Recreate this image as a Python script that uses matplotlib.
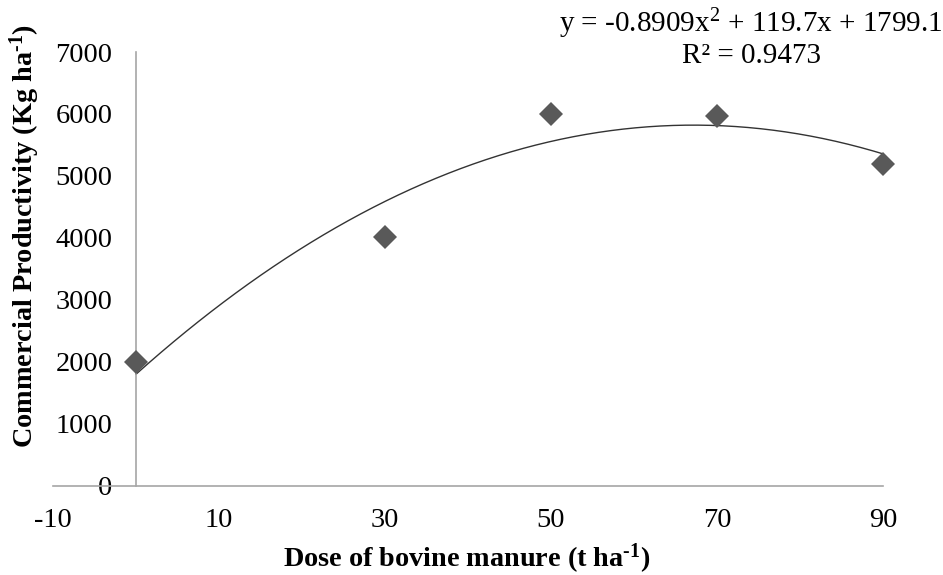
import numpy as np
import matplotlib
matplotlib.use("Agg")
import matplotlib.pyplot as plt

plt.rcParams['font.family'] = ['Liberation Serif', 'DejaVu Serif']
plt.rcParams['mathtext.fontset'] = 'custom'
plt.rcParams['mathtext.rm'] = 'Liberation Serif'
plt.rcParams['mathtext.bf'] = 'Liberation Serif:bold'
plt.rcParams['mathtext.it'] = 'Liberation Serif:italic'
plt.rcParams['axes.unicode_minus'] = False

# data
doses = [0, 30, 50, 70, 90]
productivity = [2000, 4010, 6000, 5975, 5200]
# trendline coefficients (as shown in the chart equation): a*x^2 + b*x + c
trend_coefs = [-0.8909, 119.7, 1799.1]
r_squared = 0.9473
x_ticks = [-10, 10, 30, 50, 70, 90]
y_ticks = [0, 1000, 2000, 3000, 4000, 5000, 6000, 7000]

W, H = 943, 575
fig = plt.figure(figsize=(W / 100, H / 100), dpi=100)
ax = fig.add_axes([53 / W, 1 - 485.7 / H, 830 / W, 433.7 / H])

ax.set_xlim(-10, 90)
ax.set_ylim(0, 7000)

xs = np.linspace(min(doses), max(doses), 300)
ys = np.polyval(trend_coefs, xs)
ax.plot(xs, ys, color='#333333', lw=1.0, zorder=2)
ax.plot(doses, productivity, linestyle='none', marker='D', markersize=12,
        color='#595959', markeredgewidth=0, zorder=3, clip_on=False)

for s in ['top', 'right']:
    ax.spines[s].set_visible(False)
ax.spines['left'].set_position(('data', 0))
for s in ['left', 'bottom']:
    ax.spines[s].set_color('#A6A6A6')
    ax.spines[s].set_linewidth(1.2)

ax.set_xticks(x_ticks)
ax.set_yticks(y_ticks)
ax.tick_params(axis='both', length=0, labelsize=20.5, colors='#000000')
ax.tick_params(axis='y', pad=17)
ax.tick_params(axis='x', pad=16)

fig.text(467 / W, 1 - 567 / H, "Dose of bovine manure (t ha$^{\\mathbf{\u20101}}$)",
         ha='center', va='baseline', fontsize=20.3, fontweight='bold')
fig.text(25 / W, 1 - 236 / H, "Commercial Productivity (Kg ha$^{\\mathbf{\u20101}}$)",
         ha='center', va='center', rotation=90, fontsize=20.3, fontweight='bold')

a, b, c = trend_coefs
eq1 = f"y = {a:.4f}x$^{{2}}$ + {b:.1f}x + {c:.1f}"
eq2 = f"R² = {r_squared:.4f}"
fig.text(750.5 / W, 1 - 32 / H, eq1, ha='center', va='baseline', fontsize=21)
fig.text(751.5 / W, 1 - 63 / H, eq2, ha='center', va='baseline', fontsize=21)

fig.savefig("out.png", dpi=100)
